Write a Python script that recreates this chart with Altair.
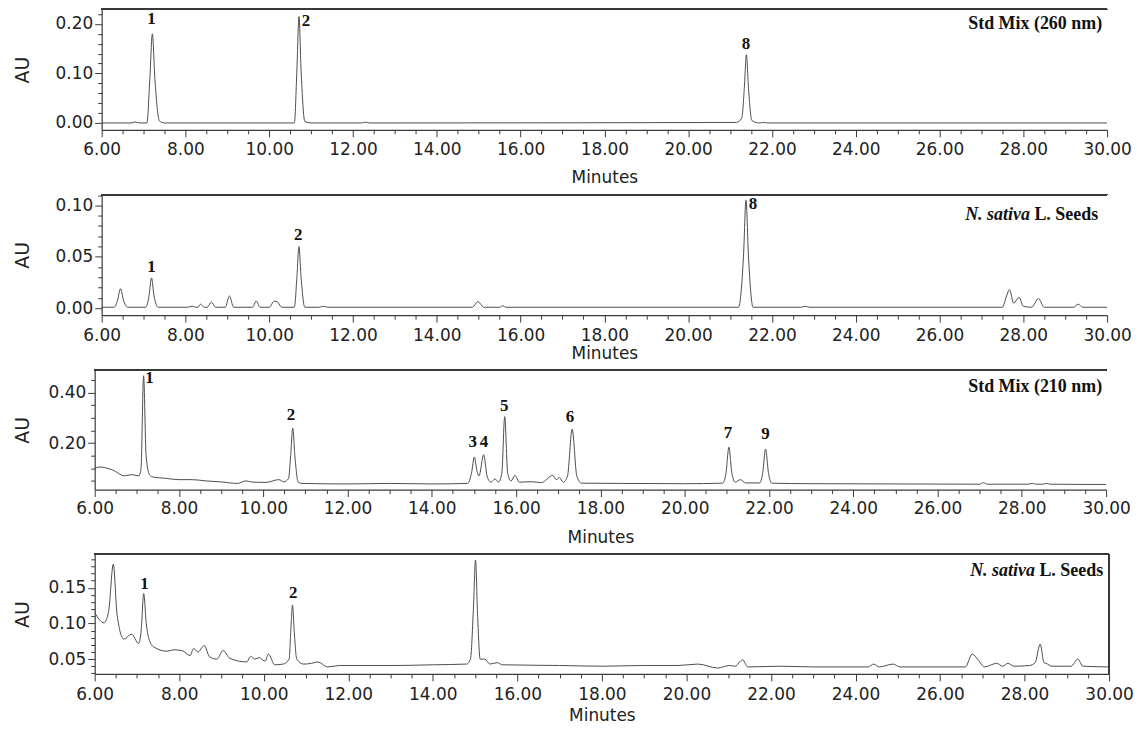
import altair as alt
import pandas as pd

# ---------------- data ----------------
# Panel 1: Std Mix (260 nm)
p1_time = [6.0, 6.7, 6.8, 6.9, 7.08, 7.15, 7.21, 7.27, 7.38, 7.5, 10.0, 10.6, 10.66, 10.71, 10.76,
           10.85, 11.0, 12.2, 12.3, 12.4, 21.15, 21.28, 21.34, 21.39, 21.44, 21.52, 21.7, 21.8, 21.9, 30.0]
p1_au = [0.0, 0.0, 0.002, 0.0, 0.0, 0.09, 0.18, 0.09, 0.004, 0.0, 0.0, 0.0, 0.107, 0.215, 0.107,
         0.003, 0.0, 0.0, 0.0015, 0.0, 0.001, 0.01, 0.07, 0.138, 0.07, 0.005, 0.0, 0.001, 0.0, 0.0]
p1_lab = ["1", "2", "8"]
p1_lab_t = [7.19, 10.88, 21.38]
p1_lab_a = [0.209, 0.205, 0.16]

# Panel 2: N. sativa seeds (260 nm)
p2_time = [6.0, 6.3, 6.38, 6.45, 6.52, 6.62, 7.05, 7.13, 7.19, 7.25, 7.35, 8.05, 8.16, 8.25, 8.3,
           8.36, 8.45, 8.52, 8.62, 8.72, 8.95, 9.05, 9.15, 9.6, 9.69, 9.78, 10.0, 10.12, 10.2, 10.3,
           10.6, 10.66, 10.71, 10.76, 10.85, 11.2, 11.29, 11.4, 14.85, 14.98, 15.12, 15.5, 15.57,
           15.65, 21.2, 21.32, 21.38, 21.44, 21.55, 22.7, 22.79, 22.9, 27.5, 27.6, 27.67, 27.77,
           27.9, 28.0, 28.2, 28.36, 28.5, 29.2, 29.31, 29.42, 30.0]
p2_au = [0.001, 0.001, 0.008, 0.019, 0.008, 0.001, 0.001, 0.012, 0.0295, 0.012, 0.001, 0.001, 0.002,
         0.001, 0.001, 0.004, 0.001, 0.001, 0.006, 0.001, 0.001, 0.012, 0.001, 0.001, 0.007, 0.001,
         0.001, 0.007, 0.006, 0.001, 0.001, 0.03, 0.060, 0.03, 0.001, 0.001, 0.002, 0.001, 0.001,
         0.0065, 0.001, 0.001, 0.0025, 0.001, 0.001, 0.05, 0.105, 0.05, 0.001, 0.001, 0.002, 0.001,
         0.001, 0.012, 0.018, 0.005, 0.0105, 0.002, 0.001, 0.0095, 0.001, 0.001, 0.004, 0.001, 0.001]
p2_lab = ["1", "2", "8"]
p2_lab_t = [7.19, 10.69, 21.55]
p2_lab_a = [0.040, 0.071, 0.101]

# Panel 3: Std Mix (210 nm)
p3_time = [6.0, 6.12, 6.43, 6.71, 6.87, 7.05, 7.1, 7.16, 7.22, 7.3, 7.37, 7.7, 8.0, 8.32, 8.64, 9.0,
           9.39, 9.59, 9.75, 10.06, 10.37, 10.49, 10.6, 10.65, 10.70, 10.75, 10.83, 10.92, 12.0,
           13.0, 14.0, 14.85, 14.94, 15.01, 15.07, 15.12, 15.23, 15.31, 15.4, 15.5, 15.58, 15.66,
           15.73, 15.8, 15.88, 15.97, 16.08, 16.36, 16.6, 16.87, 16.95, 17.03, 17.12, 17.22, 17.33,
           17.44, 17.55, 18.5, 20.0, 20.9, 20.98, 21.05, 21.12, 21.2, 21.32, 21.45, 21.78, 21.85,
           21.92, 21.99, 22.07, 23.0, 25.0, 27.0, 27.09, 27.18, 28.15, 28.25, 28.35, 28.5, 28.58,
           28.68, 29.5, 30.0]
p3_au = [0.10, 0.105, 0.093, 0.07, 0.075, 0.07, 0.1, 0.467, 0.15, 0.075, 0.066, 0.06, 0.055, 0.055,
         0.05, 0.046, 0.04, 0.05, 0.045, 0.044, 0.055, 0.046, 0.06, 0.15, 0.259, 0.15, 0.045, 0.04,
         0.038, 0.04, 0.038, 0.04, 0.08, 0.145, 0.09, 0.07, 0.154, 0.07, 0.045, 0.058, 0.045, 0.08,
         0.305, 0.08, 0.05, 0.072, 0.045, 0.047, 0.043, 0.072, 0.055, 0.063, 0.045, 0.07, 0.255,
         0.07, 0.041, 0.040, 0.039, 0.041, 0.08, 0.184, 0.08, 0.045, 0.055, 0.042, 0.042, 0.08,
         0.176, 0.08, 0.041, 0.039, 0.038, 0.037, 0.043, 0.037, 0.037, 0.040, 0.037, 0.037, 0.040,
         0.037, 0.036, 0.036]
p3_lab = ["1", "2", "3", "4", "5", "6", "7", "9"]
p3_lab_t = [7.30, 10.66, 14.97, 15.24, 15.72, 17.28, 21.03, 21.92]
p3_lab_a = [0.458, 0.31, 0.204, 0.204, 0.349, 0.302, 0.239, 0.235]

# Panel 4: N. sativa seeds (210 nm)
p4_time = [6.0, 6.22, 6.33, 6.44, 6.53, 6.69, 6.87, 7.04, 7.1, 7.16, 7.22, 7.28, 7.4, 7.71, 7.87,
           8.06, 8.26, 8.34, 8.44, 8.59, 8.72, 8.89, 9.04, 9.2, 9.6, 9.69, 9.79, 9.89, 10.03, 10.11,
           10.26, 10.46, 10.6, 10.64, 10.68, 10.72, 10.78, 10.94, 11.13, 11.28, 11.51, 11.79, 13.13,
           14.0, 14.8, 14.89, 14.96, 15.01, 15.06, 15.12, 15.23, 15.35, 15.52, 15.65, 17.0, 18.0,
           19.0, 19.8, 20.27, 20.74, 21.02, 21.15, 21.33, 21.45, 22.23, 23.0, 24.3, 24.43, 24.56,
           24.89, 25.05, 26.6, 26.76, 26.9, 27.05, 27.34, 27.48, 27.61, 27.75, 28.12, 28.25, 28.37,
           28.46, 28.51, 28.65, 29.1, 29.26, 29.38, 30.0]
p4_au = [0.115, 0.101, 0.117, 0.183, 0.112, 0.078, 0.085, 0.072, 0.09, 0.142, 0.1, 0.079, 0.067,
         0.061, 0.063, 0.062, 0.055, 0.065, 0.06, 0.069, 0.053, 0.05, 0.062, 0.051, 0.046, 0.054,
         0.05, 0.052, 0.047, 0.057, 0.042, 0.043, 0.05, 0.09, 0.126, 0.09, 0.05, 0.043, 0.044, 0.046,
         0.039, 0.041, 0.041, 0.042, 0.043, 0.05, 0.12, 0.189, 0.11, 0.05, 0.05, 0.043, 0.045, 0.042,
         0.041, 0.040, 0.041, 0.041, 0.043, 0.0375, 0.041, 0.040, 0.049, 0.039, 0.040, 0.039, 0.039,
         0.043, 0.039, 0.043, 0.039, 0.039, 0.057, 0.049, 0.039, 0.044, 0.040, 0.044, 0.040, 0.041,
         0.045, 0.071, 0.045, 0.044, 0.040, 0.040, 0.05, 0.040, 0.039]
p4_lab = ["1", "2"]
p4_lab_t = [7.18, 10.70]
p4_lab_a = [0.156, 0.143]

x_ticks = [6.0 + 0.5 * i for i in range(49)]
p1_yticks = [0.0, 0.02, 0.04, 0.06, 0.08, 0.10, 0.12, 0.14, 0.16, 0.18, 0.20, 0.22]
p2_yticks = [0.0, 0.01, 0.02, 0.03, 0.04, 0.05, 0.06, 0.07, 0.08, 0.09, 0.10, 0.11]
p3_yticks = [0.05, 0.10, 0.15, 0.20, 0.25, 0.30, 0.35, 0.40, 0.45]
p4_yticks = [0.03, 0.04, 0.05, 0.06, 0.07, 0.08, 0.09, 0.10, 0.11, 0.12, 0.13, 0.14, 0.15, 0.16,
             0.17, 0.18, 0.19]

SANS = "DejaVu Sans"
SERIF = "Liberation Serif"
AXC = "#3a3a3a"
LINEC = "#4d4d4d"


def major_test(mult):
    return f"abs(datum.value*{mult} - round(datum.value*{mult})) < 1e-6"


def panel(times, au, lab, lab_t, lab_a, ydom, yticks, ymult, width, height, inset,
          title_parts, title_right, title_y, right_border, y_title_pad,
          x_label_pad, x_title_pad):
    xtest = major_test(0.5)
    ytest = major_test(ymult)
    xaxis = alt.Axis(
        values=x_ticks, title="Minutes",
        labelExpr=f"{xtest} ? format(datum.value, '.2f') : ''",
        tickSize={"condition": {"test": xtest, "value": 7}, "value": 4},
        labelPadding=x_label_pad, titlePadding=x_title_pad,
        labelOverlap=False, labelFlush=False, labelBound=False,
        grid=False,
    )
    yaxis = alt.Axis(
        values=yticks, title="AU", offset=-inset,
        labelExpr=f"{ytest} ? format(datum.value, '.2f') : ''",
        labelFontSize={"condition": {"test": ytest, "value": 17}, "value": 1},
        tickSize={"condition": {"test": ytest, "value": 7}, "value": 4},
        labelPadding=2, titlePadding=y_title_pad,
        labelOverlap=False, labelFlush=False, labelBound=False,
        grid=False, titleFontSize=19,
    )
    xs = alt.Scale(domain=[6, 30], range=[inset, width], nice=False, zero=False)
    ys = alt.Scale(domain=ydom, nice=False, zero=False)

    df = pd.DataFrame({"t": times, "a": au})
    ldf = pd.DataFrame({"t": lab_t, "a": lab_a, "lab": lab})

    line = alt.Chart(df).mark_line(color=LINEC, strokeWidth=1, interpolate="monotone", clip=True).encode(
        x=alt.X("t:Q", scale=xs, axis=xaxis),
        y=alt.Y("a:Q", scale=ys, axis=yaxis),
    )
    labels = alt.Chart(ldf).mark_text(font=SERIF, fontWeight="bold", fontSize=17, color="#111",
                                      baseline="middle", align="center").encode(
        x=alt.X("t:Q", scale=xs, axis=xaxis),
        y=alt.Y("a:Q", scale=ys, axis=yaxis),
        text="lab:N",
    )
    top = alt.Chart(df).mark_rule(color=AXC, strokeWidth=1.2).encode(
        x=alt.value(inset), x2=alt.value(width), y=alt.value(0))
    layers = [line, labels, top]
    if right_border:
        layers.append(alt.Chart(df).mark_rule(color=AXC, strokeWidth=1.2).encode(
            x=alt.value(width), y=alt.value(0), y2=alt.value(height)))
    off = 0
    for txt, style in reversed(title_parts):
        tdf = pd.DataFrame({"txt": [txt]})
        layers.append(alt.Chart(tdf).mark_text(font=SERIF, fontWeight="bold", fontStyle=style,
                                               fontSize=18, color="#111", align="right",
                                               baseline="middle").encode(
            x=alt.value(title_right - off), y=alt.value(title_y), text="txt:N"))
        off += 68.5
    return alt.layer(*layers).properties(width=width, height=height)


c1 = panel(p1_time, p1_au, p1_lab, p1_lab_t, p1_lab_a, [-0.0139, 0.2297], p1_yticks, 10,
           1016, 121, 7, [("Std Mix (260 nm)", "normal")], 1011, 15, False, 23, 5, 12)
c2 = panel(p2_time, p2_au, p2_lab, p2_lab_t, p2_lab_a, [-0.0067, 0.1105], p2_yticks, 20,
           1016, 121, 7, [("N. sativa", "italic"), ("L. Seeds", "normal")], 1007, 20, False, 23, 5, 2)
c3 = panel(p3_time, p3_au, p3_lab, p3_lab_t, p3_lab_a, [0.0157, 0.490], p3_yticks, 5,
           1015, 120, 0, [("Std Mix (210 nm)", "normal")], 1011, 17, False, 16, 4, 13)
c4 = panel(p4_time, p4_au, p4_lab, p4_lab_t, p4_lab_a, [0.0292, 0.197], p4_yticks, 20,
           1018, 120, 0, [("N. sativa", "italic"), ("L. Seeds", "normal")], 1012, 17, True, 16, 6, 5)

chart = alt.concat(c1, c2, c3, c4, columns=1, spacing=8).properties(
    padding={"left": 5, "top": -1, "right": 0, "bottom": 0},
).configure_view(stroke=None).configure_axis(
    domainColor=AXC, domainWidth=1.2, tickColor=AXC, tickWidth=1,
    labelColor="#222", labelFont=SANS, labelFontSize=17,
    titleColor="#222", titleFont=SANS, titleFontSize=17, titleFontWeight="normal",
)

chart.save("out.html", embed_options={"renderer": "svg", "actions": False})
